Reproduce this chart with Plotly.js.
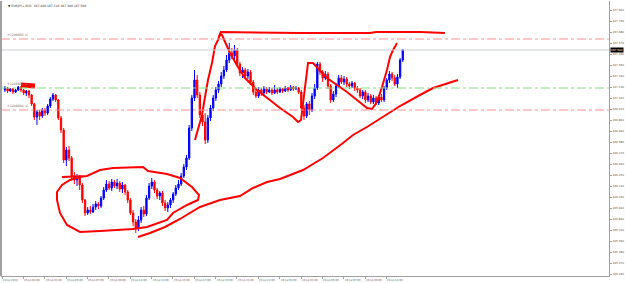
<!DOCTYPE html>
<html><head><meta charset="utf-8">
<script src="https://cdn.plot.ly/plotly-3.0.1.min.js"></script>
<style>html,body{margin:0;padding:0;background:#fff}#chart{width:625px;height:283px}</style>
</head><body><div id="chart"></div>
<script>
// ---- data ----
const symbolTitle = "EURJPY+,M15";
const opens = [167.10,167.12,167.09,167.11,167.08,167.10,167.13,167.10,167.07,167.09,
167.05,166.96,166.83,166.88,166.84,166.90,166.87,166.94,167.01,167.05,
167.00,166.82,166.70,166.40,166.50,166.42,166.24,166.20,166.23,166.15,
166.00,165.87,165.90,165.88,165.93,165.96,165.94,166.02,166.10,166.16,
166.12,166.18,166.14,166.17,166.11,166.15,166.08,166.00,165.87,165.78,
165.72,165.80,165.90,165.86,166.02,166.14,166.18,166.10,166.04,166.07,
165.97,165.92,165.95,166.00,166.06,166.12,166.16,166.24,166.33,166.42,
166.72,167.02,167.20,167.05,166.85,166.78,166.60,166.82,166.92,167.02,
167.10,167.16,167.24,167.30,167.40,167.47,167.44,167.50,167.36,167.27,
167.30,167.24,167.28,167.18,167.08,167.04,167.10,167.07,167.11,167.08,
167.10,167.07,167.10,167.08,167.11,167.09,167.12,167.10,167.13,167.11,
167.12,167.08,166.92,166.84,166.96,166.90,167.04,167.12,167.36,167.28,
167.22,167.26,167.14,167.00,167.06,167.14,167.22,167.18,167.21,167.16,
167.14,167.17,167.12,167.10,167.04,167.08,167.00,167.04,166.98,167.02,
166.97,167.03,167.00,167.12,167.20,167.26,167.22,167.16,167.23,167.40];
const highs = [167.14,167.13,167.12,167.12,167.11,167.14,167.14,167.11,167.10,167.10,
167.06,166.97,166.90,166.90,166.92,166.92,166.96,167.03,167.07,167.06,
167.01,166.84,166.72,166.53,166.54,166.44,166.28,166.26,166.25,166.17,
166.01,165.93,165.94,165.96,165.99,165.98,166.04,166.13,166.20,166.19,
166.21,166.20,166.21,166.19,166.18,166.16,166.10,166.02,165.90,165.81,
165.84,165.93,165.94,166.05,166.17,166.22,166.20,166.12,166.09,166.09,
166.00,165.98,166.02,166.08,166.15,166.20,166.27,166.36,166.45,166.75,
167.05,167.30,167.25,167.08,166.88,166.87,166.85,166.95,167.05,167.13,
167.19,167.28,167.34,167.45,167.57,167.52,167.55,167.52,167.38,167.33,
167.32,167.31,167.30,167.20,167.12,167.13,167.12,167.14,167.13,167.13,
167.12,167.15,167.12,167.13,167.12,167.14,167.13,167.15,167.14,167.14,
167.13,167.10,166.95,166.98,166.99,167.07,167.16,167.38,167.38,167.30,
167.29,167.28,167.16,167.09,167.17,167.25,167.25,167.24,167.23,167.18,
167.19,167.18,167.14,167.12,167.10,167.10,167.07,167.06,167.05,167.04,
167.05,167.06,167.14,167.22,167.29,167.28,167.25,167.26,167.42,167.51];
const lows = [167.08,167.07,167.08,167.06,167.07,167.09,167.08,167.05,167.04,167.02,
166.94,166.80,166.75,166.80,166.82,166.84,166.85,166.92,166.99,166.98,
166.80,166.67,166.37,166.34,166.39,166.21,166.16,166.14,166.10,165.97,
165.84,165.85,165.86,165.87,165.90,165.91,165.92,166.00,166.08,166.10,
166.09,166.12,166.11,166.08,166.07,166.05,165.97,165.85,165.74,165.67,
165.69,165.77,165.83,165.84,166.00,166.11,166.07,166.01,166.00,165.94,
165.89,165.88,165.92,165.97,166.04,166.10,166.14,166.22,166.30,166.40,
166.69,166.99,167.02,166.82,166.74,166.56,166.57,166.79,166.89,166.99,
167.07,167.13,167.21,167.28,167.37,167.41,167.40,167.34,167.24,167.22,
167.21,167.21,167.15,167.05,167.02,167.02,167.04,167.05,167.06,167.07,
167.05,167.06,167.06,167.07,167.07,167.08,167.08,167.09,167.09,167.10,
167.06,166.89,166.80,166.82,166.85,166.88,167.01,167.10,167.25,167.18,
167.20,167.11,166.97,166.98,167.03,167.12,167.16,167.15,167.13,167.11,
167.12,167.09,167.07,167.02,167.01,166.97,166.98,166.96,166.96,166.95,
166.95,166.98,166.98,167.10,167.17,167.19,167.14,167.12,167.21,167.38];
const closes = [167.12,167.09,167.11,167.08,167.10,167.13,167.10,167.07,167.09,167.05,
166.96,166.83,166.88,166.84,166.90,166.87,166.94,167.01,167.05,167.00,
166.82,166.70,166.40,166.50,166.42,166.24,166.20,166.23,166.15,166.00,
165.87,165.90,165.88,165.93,165.96,165.94,166.02,166.10,166.16,166.12,
166.18,166.14,166.17,166.11,166.15,166.08,166.00,165.87,165.78,165.72,
165.80,165.90,165.86,166.02,166.14,166.18,166.10,166.04,166.07,165.97,
165.92,165.95,166.00,166.06,166.12,166.16,166.24,166.33,166.42,166.72,
167.02,167.20,167.05,166.85,166.78,166.60,166.82,166.92,167.02,167.10,
167.16,167.24,167.30,167.40,167.47,167.44,167.50,167.36,167.27,167.30,
167.24,167.28,167.18,167.08,167.04,167.10,167.07,167.11,167.08,167.10,
167.07,167.10,167.08,167.11,167.09,167.12,167.10,167.13,167.11,167.12,
167.08,166.92,166.84,166.96,166.90,167.04,167.12,167.36,167.28,167.22,
167.26,167.14,167.00,167.06,167.14,167.22,167.18,167.21,167.16,167.14,
167.17,167.12,167.10,167.04,167.08,167.00,167.04,166.98,167.02,166.97,
167.03,167.00,167.12,167.20,167.26,167.22,167.16,167.23,167.40,167.50];

// time axis labels (every 8 bars)
const timeLabels = ["24 Jul 2024","25 Jul 01:00","25 Jul 03:00","25 Jul 05:00","25 Jul 07:00",
"25 Jul 09:00","25 Jul 11:00","25 Jul 13:00","25 Jul 15:00","25 Jul 17:00","25 Jul 19:00",
"25 Jul 21:00","25 Jul 23:00","26 Jul 01:00","26 Jul 03:00","26 Jul 05:00","26 Jul 07:00",
"26 Jul 09:00","26 Jul 11:00"];
const labelStep = 8;

// price axis tick values
const priceTicks = [167.90,167.79,167.68,167.57,167.46,167.35,167.24,167.13,167.02,166.91,
166.80,166.69,166.58,166.47,166.36,166.25,166.14,166.03,165.92,165.81,165.70,165.59,
165.48,165.37,165.26];

// horizontal levels
const redLevels = [167.61, 166.90];
const greenLevels = [167.12];
const levelNames = ["#1208895 sl", "#1208895 tp", "#1208896 sl"];
const levelNameY = [167.61, 167.12, 166.90];

// hand-drawn red annotations (bar index, price)
const topLineX = [81.3,82.0,111.6,137.8,140.1,156.6,165.9];
const topLineY = [167.63,167.68,167.67,167.67,167.68,167.68,167.67];
const zigX = [72.28,73.41,74.91,76.03,77.15,78.65,79.78,80.90,81.65,82.40,85.39,88.39,91.01,95.51,99.25,104.12,108.99,110.86,111.99,112.73,113.48,114.61,116.48,119.10,121.72,125.47,129.21,132.96,136.70,138.58,140.45,142.32,144.19,145.32,146.44,147.57,147.94];
const zigY = [166.60,166.70,166.85,167.03,167.20,167.37,167.54,167.60,167.66,167.65,167.47,167.33,167.22,167.10,167.02,166.92,166.83,166.78,166.80,166.97,167.17,167.37,167.37,167.30,167.22,167.15,167.08,167.00,166.92,166.91,166.98,167.13,167.30,167.43,167.50,167.55,167.57];
const ellX = [22.47,31.84,36.70,41.57,52.81,54.68,61.80,66.67,71.16,73.78,73.41,69.29,64.04,61.80,54.31,49.06,36.70,29.21,24.34,21.72,20.60,20.60,22.47,25.47,29.21,31.84];
const ellY = [166.23,166.24,166.30,166.32,166.33,166.29,166.26,166.22,166.13,166.05,166.00,165.95,165.87,165.80,165.73,165.71,165.69,165.68,165.75,165.87,166.00,166.08,166.15,166.20,166.23,166.24];
const trendX = [50.94,55.43,61.05,66.67,74.16,81.65,89.14,94.01,99.25,104.12,112.73,120.22,127.72,131.46,136.70,141.57,146.44,149.06,156.55,161.42,170.79];
const trendY = [165.63,165.67,165.73,165.81,165.93,166.00,166.04,166.12,166.18,166.21,166.30,166.42,166.57,166.65,166.73,166.81,166.89,166.94,167.05,167.12,167.20];
const blobX = [7.12, 12.36];
const blobY = [167.15, 167.14];

// ---- build ----
const n = closes.length;
const barShift = 1.1; // first bar sits a little right of the left edge
const xs = closes.map((_, i) => i + barShift);
const last = n - 1;
const fmt = v => v.toFixed(3);

const traces = [{
  type: 'candlestick', x: xs, open: opens, high: highs, low: lows, close: closes,
  increasing: {line: {color: '#0000FF', width: 1}, fillcolor: '#0000FF'},
  decreasing: {line: {color: '#FF0000', width: 1}, fillcolor: '#FF0000'},
  whiskerwidth: 0, hoverinfo: 'skip', showlegend: false
}];
const red = (x, y, w) => ({type: 'scatter', mode: 'lines', x: x, y: y,
  line: {color: '#FF0000', width: w}, hoverinfo: 'skip', showlegend: false});
traces.push(red(topLineX, topLineY, 2));
traces.push(red(zigX, zigY, 2));
traces.push(red(ellX, ellY, 2));
traces.push(red(trendX, trendY, 2));
traces.push(red(blobX, blobY, 5));

const shapes = [];
redLevels.forEach(v => shapes.push({type: 'line', xref: 'paper', x0: 0, x1: 1, yref: 'y', y0: v, y1: v,
  line: {color: '#FF9090', width: 1, dash: 'dashdot'}}));
greenLevels.forEach(v => shapes.push({type: 'line', xref: 'paper', x0: 0, x1: 1, yref: 'y', y0: v, y1: v,
  line: {color: '#80E080', width: 1, dash: 'dashdot'}}));
shapes.push({type: 'line', xref: 'paper', x0: 0, x1: 1, yref: 'y', y0: closes[last], y1: closes[last],
  line: {color: '#C8CDD2', width: 1}});
shapes.push({type: 'line', xref: 'paper', x0: 0, x1: 0, yref: 'paper', y0: 0, y1: 1,
  line: {color: '#A0A0A0', width: 2}});

const annotations = [];
annotations.push({xref: 'paper', yref: 'paper', x: 0.008, y: 0.997, xanchor: 'left', yanchor: 'top',
  showarrow: false, text: '▼ ' + symbolTitle + '  ' + fmt(opens[last]) + ' ' + fmt(highs[last]) + ' ' + fmt(lows[last]) + ' ' + fmt(closes[last]),
  font: {size: 3, color: '#333', family: 'DejaVu Sans'}});
levelNames.forEach((t, k) => annotations.push({xref: 'paper', yref: 'y', x: 0.006, y: levelNameY[k],
  xanchor: 'left', yanchor: 'bottom', yshift: 0, showarrow: false, text: t,
  font: {size: 3.2, color: '#777', family: 'DejaVu Sans'}}));
timeLabels.forEach((t, k) => annotations.push({xref: 'x', yref: 'paper', x: k * labelStep, y: 0,
  xanchor: 'left', yanchor: 'top', xshift: -1, yshift: -1, showarrow: false, text: t,
  font: {size: 2.6, color: '#555', family: 'DejaVu Sans'}}));
annotations.push({xref: 'paper', yref: 'y', x: 1, y: closes[last], xanchor: 'left', yanchor: 'middle',
  xshift: 1, showarrow: false, text: fmt(closes[last]), bgcolor: '#000', borderpad: 0,
  font: {size: 2.8, color: '#fff', family: 'DejaVu Sans'}});

const layout = {
  width: 625, height: 283,
  margin: {l: 1, r: 16, t: 1, b: 7, pad: 0},
  paper_bgcolor: '#fff', plot_bgcolor: '#fff',
  showlegend: false,
  xaxis: {range: [-0.3745, 227.34], showgrid: false, zeroline: false, showline: true, linecolor: '#A0A0A0',
    linewidth: 1, rangeslider: {visible: false}, tickmode: 'array',
    tickvals: timeLabels.map((_, k) => k * labelStep), ticks: 'outside', ticklen: 2, tickcolor: '#A0A0A0',
    showticklabels: false, fixedrange: true},
  yaxis: {range: [165.24, 167.99], side: 'right', showgrid: false, zeroline: false, showline: true,
    linecolor: '#A0A0A0', linewidth: 1, tickmode: 'array', tickvals: priceTicks,
    ticktext: priceTicks.map(fmt), ticks: 'outside', ticklen: 2, tickcolor: '#A0A0A0',
    tickfont: {size: 2.8, color: '#555', family: 'DejaVu Sans'}, fixedrange: true},
  shapes: shapes, annotations: annotations
};
Plotly.newPlot('chart', traces, layout, {staticPlot: true, displayModeBar: false});
</script></body></html>
